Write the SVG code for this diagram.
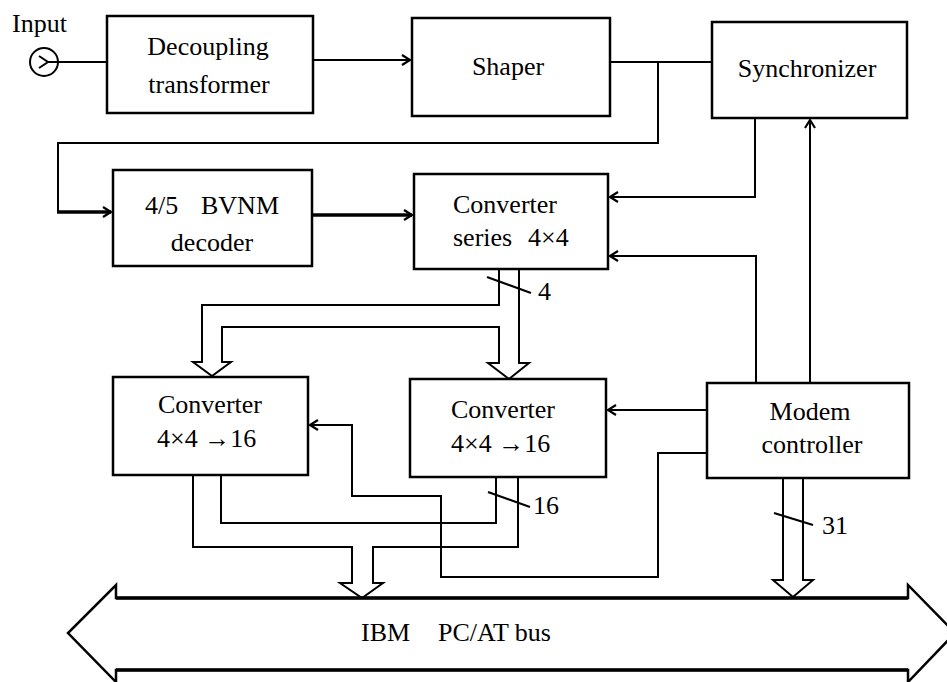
<svg xmlns="http://www.w3.org/2000/svg" width="947" height="682" viewBox="0 0 947 682">
<style>
.box{fill:#fff;stroke:#000;stroke-width:2.5}
.ln{fill:none;stroke:#000;stroke-width:2}
.thk{fill:none;stroke:#000;stroke-width:3.5}
text{font-size:26px;fill:#000}
.c{text-anchor:middle}
</style>
<defs>
<marker id="ah" markerUnits="userSpaceOnUse" markerWidth="14" markerHeight="14" refX="10" refY="6" orient="auto">
<path d="M2,1 L10,6 L2,11" fill="none" stroke="#000" stroke-width="2.2"/>
</marker>
</defs>
<rect width="947" height="682" fill="#fff"/>
<g id="connectors">
<circle cx="44" cy="62" r="14" class="ln"/>
<path d="M39,56 L48,62 L39,68" class="ln"/>
<path d="M48,62 L107,62" class="ln"/>
<path d="M313,60 L410,60" class="ln" marker-end="url(#ah)"/>
<path d="M610,62 L712,62" class="ln"/>
<path d="M658,62 L658,143 L58,143 L58,212" class="ln"/>
<path d="M57,212 L111,212" class="thk" marker-end="url(#ah)"/>
<path d="M312,215 L412,215" class="thk" marker-end="url(#ah)"/>
<path d="M755,118 L755,197 L610,197" class="ln" marker-end="url(#ah)"/>
<path d="M756,383 L756,256 L610,256" class="ln" marker-end="url(#ah)"/>
<path d="M810,383 L810,120" class="ln" marker-end="url(#ah)"/>
<path d="M707,410 L608,410" class="ln" marker-end="url(#ah)"/>
<path d="M707,453 L658,453 L658,577 L441,577 L441,496 L352,496 L352,425 L310,425" class="ln" marker-end="url(#ah)"/>
<path d="M499,269 L499,305 L202,305 L202,362 L193,362 L212,376 L231,362 L222,362 L222,327 L499,327 L499,363 L488,363 L509,379 L529,363 L519,363 L519,269" class="ln"/>
<path d="M221,475 L221,523 L496,523 L496,477" class="ln"/>
<path d="M193,475 L193,547 L352,547 L352,583 L340,583 L362,598 L383,583 L373,583 L373,547 L518,547 L518,477" class="ln"/>
<path d="M783,478 L783,580 L773,580 L793,597 L813,580 L803,580 L803,478" class="ln"/>
<path d="M487,277 L531,293" class="ln"/>
<path d="M488,492 L530,507" class="ln"/>
<path d="M774,513 L813,525" class="ln"/>
</g>
<g font-family="Liberation Serif, serif">
<g id="labels">
<text x="12" y="32">Input</text>
<text x="538" y="300">4</text>
<text x="533" y="514">16</text>
<text x="822" y="534">31</text>
</g>
<g id="bus">
<path d="M116,598 L908,598 L908,585 L955,633 L908,682 L908,670 L116,670 L116,682 L68,633 L116,585 Z" fill="#fff" stroke="#000" stroke-width="2.5"/>
<path d="M116,598 L908,598 M116,670 L908,670" class="thk"/>
<text y="641"><tspan x="361">IBM</tspan><tspan x="438">PC/AT bus</tspan></text>
</g>
<g id="decoupling">
<rect x="107" y="16" width="206" height="97" class="box"/>
<text x="208" y="55" class="c">Decoupling</text>
<text x="209" y="93" class="c">transformer</text>
</g>
<g id="shaper">
<rect x="412" y="18" width="198" height="98" class="box"/>
<text x="508" y="75" class="c">Shaper</text>
</g>
<g id="synchronizer">
<rect x="712" y="22" width="195" height="96" class="box"/>
<text x="807" y="77" class="c">Synchronizer</text>
</g>
<g id="decoder">
<rect x="113" y="170" width="199" height="96" class="box"/>
<text y="214"><tspan x="145">4/5</tspan><tspan x="201">BVNM</tspan></text>
<text x="212" y="251" class="c">decoder</text>
</g>
<g id="converter-series">
<rect x="414" y="174" width="194" height="95" class="box"/>
<text x="453" y="213">Converter</text>
<text y="246"><tspan x="453">series</tspan><tspan x="528">4×4</tspan></text>
</g>
<g id="converter1">
<rect x="113" y="377" width="195" height="98" class="box"/>
<text x="158" y="413">Converter</text>
<text x="157" y="447">4×4 →16</text>
</g>
<g id="converter2">
<rect x="410" y="379" width="196" height="98" class="box"/>
<text x="451" y="418">Converter</text>
<text x="451" y="452">4×4 →16</text>
</g>
<g id="modem">
<rect x="707" y="383" width="202" height="95" class="box"/>
<text x="810" y="420" class="c">Modem</text>
<text x="812" y="453" class="c">controller</text>
</g>
</g>
</svg>
